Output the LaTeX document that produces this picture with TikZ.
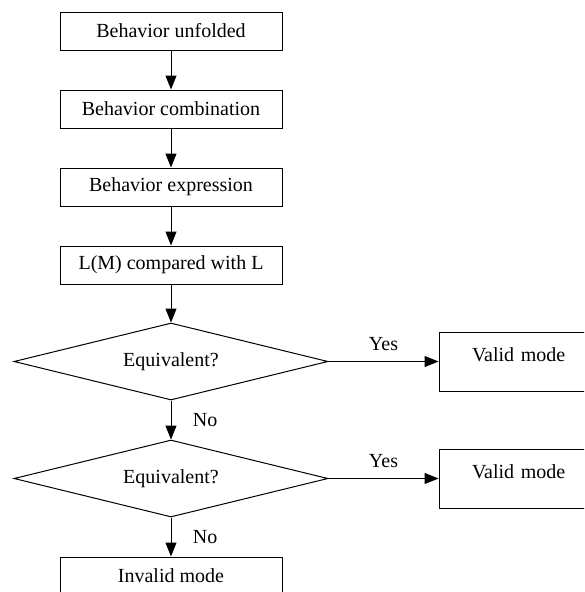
\documentclass[tikz,border=0pt]{standalone}
\usepackage{fontspec}
\setmainfont{Liberation Serif}
\usetikzlibrary{positioning,arrows.meta,shapes.geometric}

\begin{document}
\begin{tikzpicture}[
  x=1pt, y=-1pt,
  node distance=39pt and 110pt,
  box/.style={rectangle, draw=black, line width=1pt, minimum width=222pt, minimum height=38pt, inner sep=0pt, font=\fontsize{20}{24}\selectfont},
  decision/.style={diamond, draw=black, line width=1pt, aspect=4.08, minimum width=314pt, minimum height=77pt, inner sep=0pt, font=\fontsize{20}{24}\selectfont},
  result/.style={rectangle, draw=black, line width=1pt, text width=104pt, align=left, inner xsep=33pt, inner ysep=0pt, text height=29pt, text depth=30pt, font=\fontsize{20}{24}\selectfont},
  arrow/.style={-{Triangle[length=14pt,width=11pt]}, line width=1pt},
  answer/.style={font=\fontsize{20}{24}\selectfont}
]
\useasboundingbox (0,0) rectangle (584,592);
\clip (0,0) rectangle (584,592);

% Main column
\node[box] (unfold) at (171,31) {\raisebox{-1pt}{Behavior unfolded}};
\node[box, below=of unfold] (combine) {\raisebox{-1pt}{Behavior combination}};
\node[box, below=of combine] (express) {\raisebox{-1pt}{Behavior expression}};
\node[box, below=of express] (compare) {\raisebox{-1pt}{L(M) compared with L}};

% Decisions
\node[decision, below=38pt of compare] (check1) {\raisebox{-5pt}{Equivalent?}};
\node[decision, below=of check1] (check2) {\raisebox{-5pt}{Equivalent?}};
\node[box, below=of check2] (invalid) {\raisebox{-1pt}{Invalid mode}};

% Results on the right
\node[result, right=of check1] (valid1) {Valid mode};
\node[result, right=of check2] (valid2) {Valid mode};

% Arrows
\draw[arrow] (unfold) -- (combine);
\draw[arrow] (combine) -- (express);
\draw[arrow] (express) -- (compare);
\draw[arrow] (compare) -- (check1);
\draw[arrow] (check1) -- node[above=7pt, answer]{Yes} (valid1);
\draw[arrow] (check1) -- node[right=18pt, answer]{No} (check2);
\draw[arrow] (check2) -- node[above=7pt, answer]{Yes} (valid2);
\draw[arrow] (check2) -- node[right=18pt, answer]{No} (invalid);

\end{tikzpicture}
\end{document}
